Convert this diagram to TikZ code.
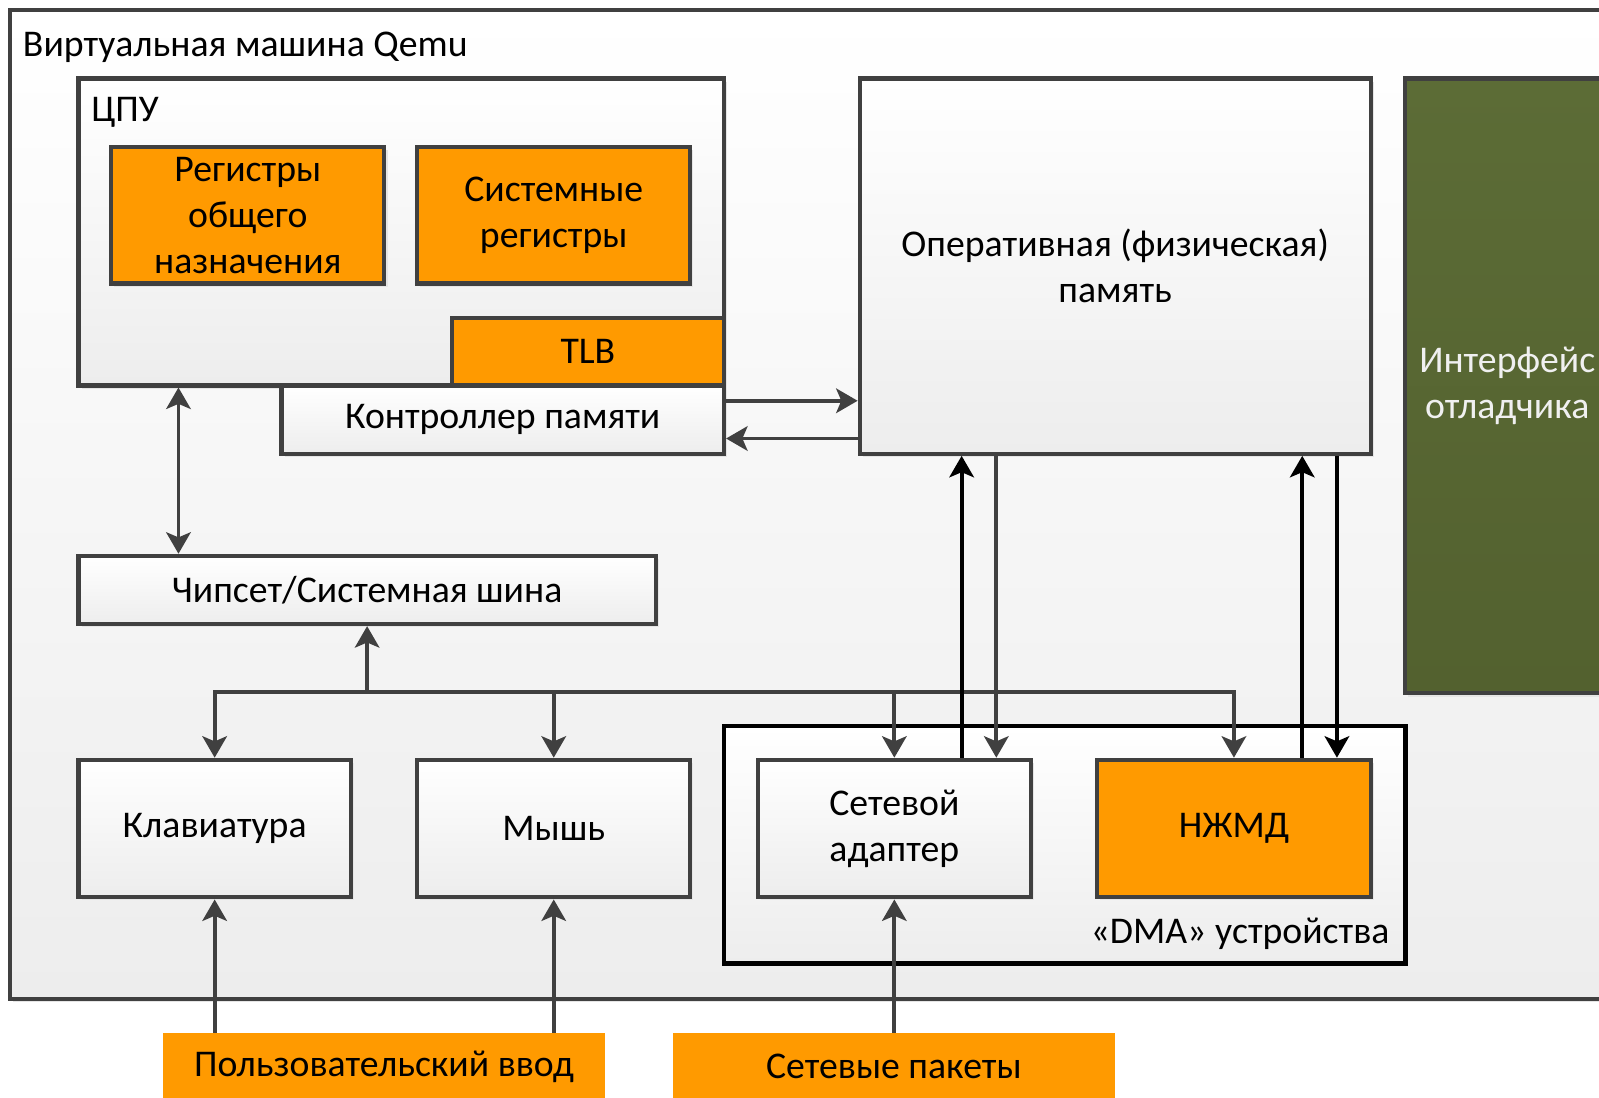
\documentclass[tikz,border=0pt]{standalone}
\usepackage{fontspec}
\setmainfont{Carlito}
\usetikzlibrary{arrows.meta,shadows}

\definecolor{edge}{HTML}{404040}
\definecolor{orng}{HTML}{FF9A00}
\definecolor{olivetop}{HTML}{5C6C36}
\definecolor{olivebot}{HTML}{53612F}
\definecolor{paleg}{HTML}{EDEDED}

\tikzset{
  txt/.style={font=\fontsize{37}{45}\selectfont, align=center, text=black},
  base/.style={txt, rectangle, inner sep=0pt, draw=edge, line width=4pt,
    drop shadow={shadow xshift=3pt, shadow yshift=-3pt, fill=black!10, opacity=1}},
  gbox/.style={base, top color=white, bottom color=paleg},
  obox/.style={base, fill=orng},
  srcbox/.style={txt, rectangle, inner sep=0pt, fill=orng},
  dbgbox/.style={base, top color=olivetop, bottom color=olivebot, text=white!94!black},
  dmabox/.style={rectangle, inner sep=0pt, draw=black, line width=4.5pt,
    top color=white, bottom color=paleg},
  arr/.style={draw=edge, line width=3.8pt, -{Stealth[length=21pt, width=24pt, inset=5pt]}},
  arrs/.style={draw=edge, line width=3.8pt,
    {Stealth[length=21pt, width=24pt, inset=5pt]}-{Stealth[length=21pt, width=24pt, inset=5pt]}},
  blk/.style={draw=black, line width=4pt, -{Stealth[length=21pt, width=24pt, inset=5pt]}},
}

\begin{document}
\begin{tikzpicture}[x=1pt, y=-1pt, line join=miter]
\useasboundingbox (0,0) rectangle (1568,1076);
\clip (0,0) rectangle (1568,1076);
\fill[white] (0,0) rectangle (1568,1076);

% virtual machine frame
\node[gbox, minimum width=1590pt, minimum height=970pt] (vm) at (805,495) {};
\node[txt, anchor=base west] (vmlbl) at (19,55) {Виртуальная машина Qemu};

% processor
\node[gbox, minimum width=633pt, minimum height=301pt] (cpu) at (393.5,227.5) {};
\node[txt, anchor=base west] (cpulbl) at (86,119) {ЦПУ};
\node[obox, minimum width=268pt, minimum height=134pt] (gpr) at (243,211)
  {Регистры\\общего\\назначения};
\node[obox, minimum width=268pt, minimum height=134pt] (sysreg) at (543,211)
  {Системные\\регистры};
\node[obox, minimum width=267pt, minimum height=66pt] (tlb) at (576.5,345) {TLB};
\node[gbox, minimum width=434pt, minimum height=67pt] (mc) at (493,411.5)
  {Контроллер памяти};

% memory and debugger
\node[gbox, minimum width=501pt, minimum height=368pt] (ram) at (1093.5,261)
  {Оперативная (физическая)\\память};
\node[dbgbox, minimum width=200pt, minimum height=603pt] (dbg) at (1478,378.5)
  {Интерфейс\\отладчика};

% system bus and peripherals
\node[gbox, minimum width=566pt, minimum height=67pt] (chip) at (360,578.5)
  {Чипсет/Системная шина};
\node[gbox, minimum width=267pt, minimum height=135pt] (kbd) at (210.5,812.5) {Клавиатура};
\node[gbox, minimum width=268pt, minimum height=135pt] (mouse) at (543,812.5) {Мышь};

% DMA-capable devices
\node[dmabox, minimum width=668pt, minimum height=233pt] (dma) at (1044,828.5) {};
\node[txt, anchor=base east] (dmalbl) at (1366,925) {«DMA» устройства};
\node[gbox, minimum width=268pt, minimum height=135pt] (nic) at (877,812.5)
  {Сетевой\\адаптер};
\node[obox, minimum width=268pt, minimum height=135pt] (hdd) at (1210,812.5) {НЖМД};

% external sources
\node[srcbox, minimum width=433pt, minimum height=66pt] (uin) at (376.5,1046)
  {Пользовательский ввод};
\node[srcbox, minimum width=433pt, minimum height=66pt] (pkt) at (876.5,1046)
  {Сетевые пакеты};

% processor <-> chipset
\draw[arrs] ([xshift=100pt]cpu.south west) -- ([xshift=100pt]chip.north west);

% memory controller <-> memory
\coordinate (mcA) at ([yshift=-17pt]mc.north east);
\coordinate (mcB) at ([yshift=17pt]mc.south east);
\draw[arr] (mcA) -- (mcA -| ram.west);
\draw[arr] (mcB -| ram.west) -- (mcB);

% bus to peripherals
\coordinate (bus) at (360,679);
\draw[arr] (bus) -- (chip.south);
\draw[arrs] (kbd.north) -- (kbd.north |- bus) -- (hdd.north |- bus) -- (hdd.north);
\draw[arr] (mouse.north |- bus) -- (mouse.north);
\draw[arr] (nic.north |- bus) -- (nic.north);

% direct memory access
\coordinate (nicUp) at ([xshift=66pt]nic.north);
\coordinate (nicDn) at ([xshift=100pt]nic.north);
\coordinate (hddUp) at ([xshift=67pt]hdd.north);
\coordinate (hddDn) at ([xshift=101pt]hdd.north);
\draw[blk] (nicUp) -- (nicUp |- ram.south);
\draw[arr] (nicDn |- ram.south) -- (nicDn);
\draw[blk] (hddUp) -- (hddUp |- ram.south);
\draw[blk] (hddDn |- ram.south) -- (hddDn);

% external inputs
\draw[arr] (kbd.south |- uin.north) -- (kbd.south);
\draw[arr] (mouse.south |- uin.north) -- (mouse.south);
\draw[arr] (nic.south |- pkt.north) -- (nic.south);
\end{tikzpicture}
\end{document}
